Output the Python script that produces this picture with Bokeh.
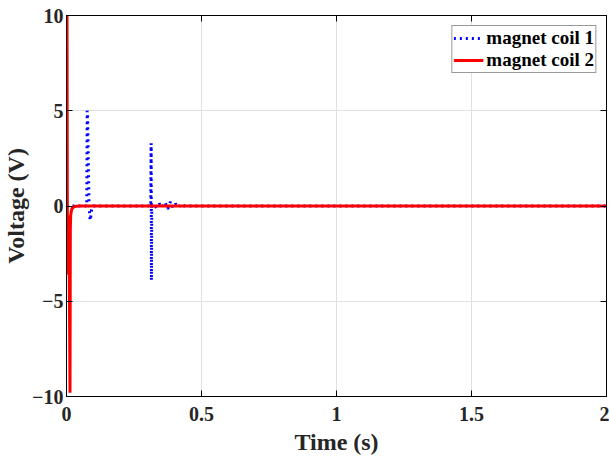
from bokeh.plotting import figure
from bokeh.models import LinearAxis, Range1d, FixedTicker, Legend, LegendItem
from bokeh.embed import file_html
from bokeh.resources import INLINE

# Data
t1 = [0.0, 0.075, 0.0765, 0.078, 0.0835, 0.0875, 0.090, 0.093, 0.096, 0.100,
      0.312, 0.3135, 0.3145, 0.316, 0.325, 0.335, 0.345, 0.355, 0.365, 0.375,
      0.385, 0.395, 0.405, 0.415, 0.425, 0.435, 0.445, 0.46, 2.0]
v1 = [0.0, 0.0, 5.0, 4.8, 0.0, -0.75, -0.55, -0.2, -0.05, 0.0,
      0.0, 3.3, -3.9, 0.0, 0.05, -0.1, 0.12, -0.05, 0.2, -0.15,
      0.22, -0.1, 0.12, -0.05, 0.08, 0.0, 0.05, 0.0, 0.0]

t2 = [0.002, 0.003, 0.0045, 0.006, 0.0075, 0.009, 0.013, 0.0142, 0.0155,
      0.018, 0.022, 0.03, 0.045, 2.0]
v2 = [10.0, 0.3, -3.6, -0.5, -2.5, -0.5, -9.8, -1.2, -0.5,
      -0.25, -0.1, -0.03, 0.0, 0.0]

x_ticks = [0, 0.5, 1, 1.5, 2]
y_ticks = [-10, -5, 0, 5, 10]

FONT = "Liberation Serif"
TXT = "#262626"

p = figure(width=609, height=457, output_backend="svg", toolbar_location=None,
           x_range=Range1d(0, 2), y_range=Range1d(-10, 10),
           min_border_left=5, min_border_right=3, min_border_top=15, min_border_bottom=60)

b = p.line(t1, v1, color="blue", line_width=3, line_dash="2 4")
r = p.line(t2, v2, color="red", line_width=3)

for ax in (p.xaxis[0], p.yaxis[0]):
    ax.major_label_text_font = FONT
    ax.major_label_text_font_style = "bold"
    ax.major_label_text_font_size = "20px"
    ax.major_label_text_color = TXT
    ax.axis_label_text_font = FONT
    ax.axis_label_text_font_style = "bold"
    ax.axis_label_text_font_size = "24px"
    ax.axis_label_text_color = TXT
    ax.major_tick_in = 6
    ax.major_tick_out = 0
    ax.minor_tick_line_color = None
    ax.axis_line_color = "black"
    ax.major_tick_line_color = "black"

p.xaxis[0].ticker = FixedTicker(ticks=x_ticks)
p.yaxis[0].ticker = FixedTicker(ticks=y_ticks)
p.xaxis[0].axis_label = "Time (s)"
p.yaxis[0].axis_label = "Voltage (V)"
p.xaxis[0].axis_label_standoff = 5
p.yaxis[0].axis_label_standoff = 0
p.xaxis[0].major_label_standoff = 10
p.yaxis[0].major_label_standoff = 3

top = LinearAxis(ticker=FixedTicker(ticks=x_ticks), major_label_text_font_size="6px",
                 major_label_text_color=None,
                 major_tick_in=6, major_tick_out=0, minor_tick_line_color=None,
                 major_label_standoff=0, axis_line_color="black")
right = LinearAxis(ticker=FixedTicker(ticks=y_ticks), major_label_text_font_size="1px",
                   major_label_text_color=None,
                   major_tick_in=6, major_tick_out=0, minor_tick_line_color=None,
                   major_label_standoff=0, axis_line_color="black")
p.add_layout(top, "above")
p.add_layout(right, "right")

p.xgrid.ticker = FixedTicker(ticks=x_ticks)
p.ygrid.ticker = FixedTicker(ticks=y_ticks)
p.grid.grid_line_color = "#e0e0e0"
p.grid.grid_line_width = 1
p.outline_line_color = "black"
p.background_fill_color = "white"
p.border_fill_color = "white"

legend = Legend(items=[LegendItem(label="magnet coil 1", renderers=[b]),
                       LegendItem(label="magnet coil 2", renderers=[r])],
                location="top_right")
legend.label_text_font = FONT
legend.label_text_font_style = "bold"
legend.label_text_font_size = "19px"
legend.label_text_color = "black"
legend.border_line_color = "#333333"
legend.border_line_width = 1
legend.glyph_width = 30
legend.glyph_height = 18
legend.label_height = 18
legend.spacing = 0
legend.padding = 1
legend.margin = 10
legend.label_standoff = 3
p.add_layout(legend)

open("out.html", "w").write(file_html(p, INLINE))
